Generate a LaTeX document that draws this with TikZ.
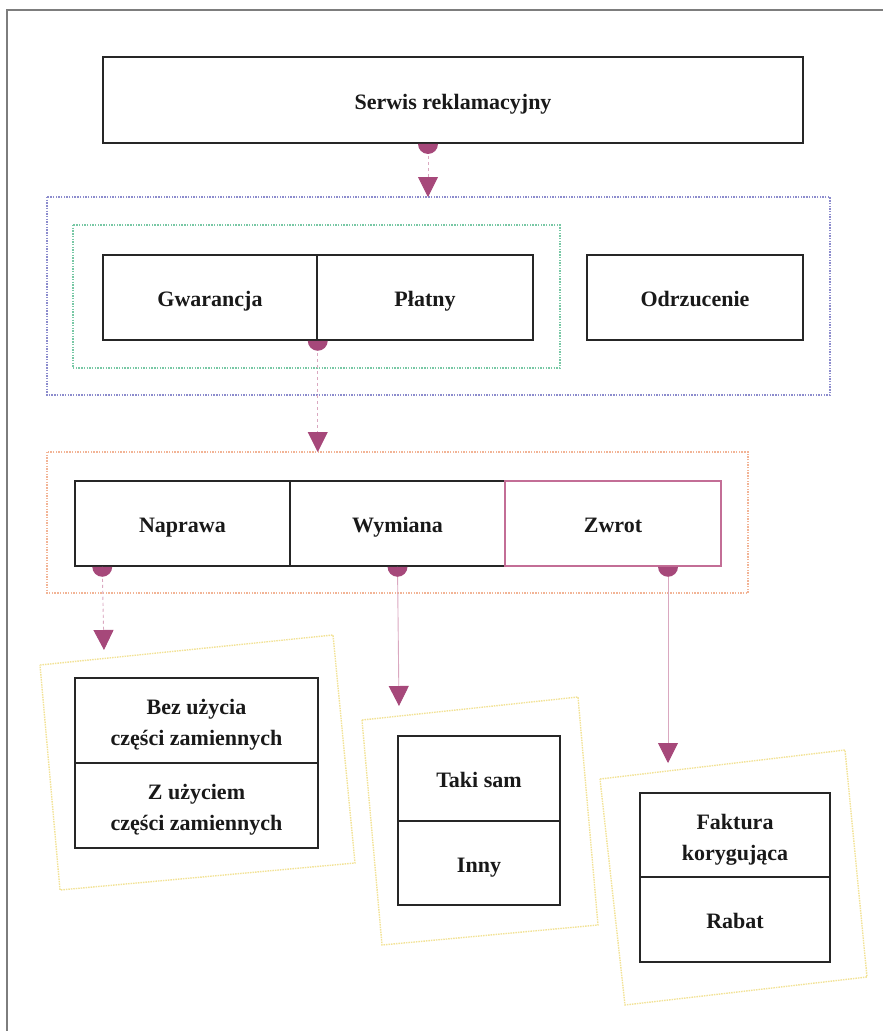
\documentclass[tikz,border=0pt]{standalone}
\usepackage{fontspec}
\setmainfont{Liberation Serif}
\usetikzlibrary{arrows.meta,calc}
\definecolor{arrowc}{RGB}{166,72,122}
\definecolor{linec}{RGB}{218,168,192}
\definecolor{bluec}{RGB}{140,140,205}
\definecolor{greenc}{RGB}{120,200,165}
\definecolor{orangec}{RGB}{242,180,150}
\definecolor{yellowc}{RGB}{242,226,150}
\definecolor{zwrotc}{RGB}{195,110,150}
\definecolor{framec}{RGB}{125,125,125}
\begin{document}
\begin{tikzpicture}[x=1pt,y=1pt,
  box/.style={draw=black!85, line width=1.5pt, fill=white, inner sep=0pt, align=center,
    text=black!90, font=\bfseries\fontsize{22}{31}\selectfont},
  one/.style={text height=22pt, text depth=4pt},
  two/.style={text height=54pt, text depth=4pt},
  conn/.style={draw=linec, line width=0.9pt, -{Triangle[width=20pt,length=20pt,color=arrowc]}},
  dotbox/.style={line width=1.7pt, dash pattern=on 1.4pt off 1.3pt},
  yframe/.style={draw=yellowc, line width=1.4pt, dash pattern=on 1.5pt off 1pt},
  semi/.style={fill=arrowc}
]
\useasboundingbox (0,0) rectangle (883,-1031);
% outer frame
\draw[framec, line width=1.2pt] (7,-1031) -- (7,-10) -- (883,-10);

% dotted group frames
\draw[dotbox, bluec] (47,-197) rectangle (830,-395);
\draw[dotbox, greenc] (73,-225) rectangle (560,-368);
\draw[dotbox, orangec] (47,-452) rectangle (748,-593);

% yellow tilted frames
\draw[yframe] (40,-665) -- (333,-635) -- (355,-863) -- (60,-890) -- cycle;
\draw[yframe] (362,-720) -- (578,-697) -- (598,-925) -- (382,-945) -- cycle;
\draw[yframe] (600,-779) -- (845,-750) -- (867,-977) -- (625,-1005) -- cycle;

% boxes
\node[box, one, line width=1.9pt, minimum width=700pt, minimum height=86pt] (serwis) at (453,-100) {Serwis reklamacyjny};

\node[box, one, minimum width=214pt, minimum height=85pt] (gw) at (210,-297.5) {Gwarancja};
\node[box, one, minimum width=216pt, minimum height=85pt] (pl) at (425,-297.5) {Płatny};
\node[box, one, minimum width=216pt, minimum height=85pt] (od) at (695,-297.5) {Odrzucenie};

\node[box, one, minimum width=215pt, minimum height=85pt] (na) at (182.5,-523.5) {Naprawa};
\node[box, one, minimum width=215pt, minimum height=85pt] (wy) at (397.5,-523.5) {Wymiana};
\node[box, one, draw=zwrotc, minimum width=216pt, minimum height=85pt] (zw) at (613,-523.5) {Zwrot};

\node[box, two, minimum width=243pt, minimum height=85pt] (bez) at (196.5,-720.5) {Bez użycia\\części zamiennych};
\node[box, two, minimum width=243pt, minimum height=85pt] (zuz) at (196.5,-805.5) {Z użyciem\\części zamiennych};

\node[box, one, minimum width=162pt, minimum height=85pt] (taki) at (479,-778.5) {Taki sam};
\node[box, one, minimum width=162pt, minimum height=84pt] (inny) at (479,-863) {Inny};

\node[box, two, minimum width=190pt, minimum height=84pt] (fak) at (735,-835) {Faktura\\korygująca};
\node[box, one, minimum width=190pt, minimum height=85pt] (rab) at (735,-919.5) {Rabat};

% connector anchors
\coordinate (s1) at ($(serwis.south)+(-25,0)$);
\coordinate (s2) at ($(gw.south east)$);
\coordinate (s3) at ($(na.south west)+(28,0)$);
\coordinate (s4) at (wy.south);
\coordinate (s5) at ($(zw.south)+(55,0)$);
\coordinate (t3) at (104,-650);
\coordinate (t4) at (399,-706);
\coordinate (t5) at (668,-763);

% connectors
\draw[conn, dashed] (s1) -- (s1 |- 0,-197);
\draw[conn, dashed] (s2) -- (s2 |- 0,-452);
\draw[conn, dashed] (s3) -- (t3);
\draw[conn] (s4) -- (t4);
\draw[conn] (s5) -- (t5);

% semicircles
\foreach \s in {s1,s2,s3,s4,s5}{
  \fill[semi] (\s) ++(-10,0) arc[start angle=180, end angle=360, radius=10] -- cycle;
}
\end{tikzpicture}
\end{document}
